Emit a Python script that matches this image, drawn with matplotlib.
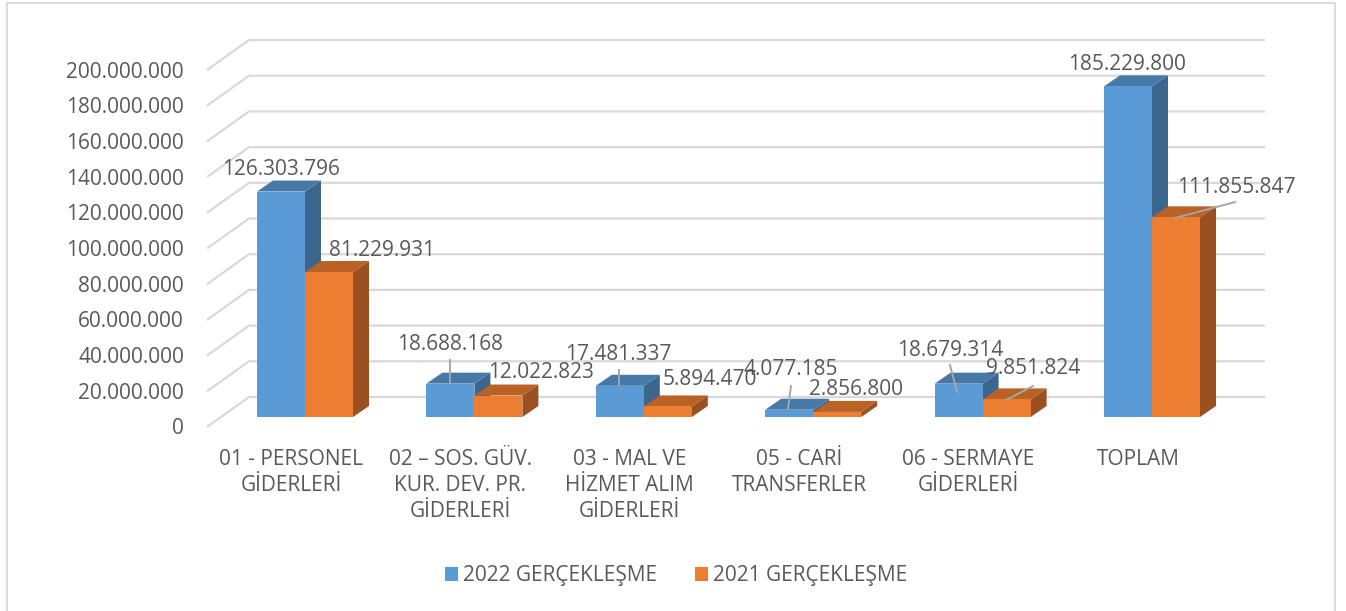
import matplotlib
matplotlib.use("Agg")
import matplotlib.pyplot as plt
from matplotlib.patches import Patch, Rectangle

# ---------------- data ----------------
categories = ["01 - PERSONEL\nGİDERLERİ",
              "02 – SOS. GÜV.\nKUR. DEV. PR.\nGİDERLERİ",
              "03 - MAL VE\nHİZMET ALIM\nGİDERLERİ",
              "05 - CARİ\nTRANSFERLER",
              "06 - SERMAYE\nGİDERLERİ",
              "TOPLAM"]
series_names = ["2022 GERÇEKLEŞME", "2021 GERÇEKLEŞME"]
values_2022 = [126303796, 18688168, 17481337, 4077185, 18679314, 185229800]
values_2021 = [81229931, 12022823, 5894470, 2856800, 9851824, 111855847]
y_ticks = [0, 20000000, 40000000, 60000000, 80000000, 100000000,
           120000000, 140000000, 160000000, 180000000, 200000000]

# ---------------- style / layout ----------------
FONT = "Open Sans"
FS = 15
TXT = "#595959"
GRID = "#D9D9D9"
LEADER = "#A6A6A6"
front_cols = ["#5B9BD5", "#ED7D31"]
top_cols = ["#4779A8", "#BA6226"]
side_cols = ["#3C668E", "#9A5020"]

W, H = 1346, 611
PX_CAT = 169.4            # pixels per category step
PX_UNIT = 1.785 / 1e6     # pixels per value unit
X0 = 305.0                # pixel x of first category centre (bar plane)
Y0 = 417.0                # pixel y (from top) of the zero line in bar plane

def dxp(p):  # pixel offset -> data x offset
    return p / PX_CAT

def dyp(p):  # pixel offset (downwards positive) -> data y offset
    return -p / PX_UNIT

fig = plt.figure(figsize=(W / 100, H / 100), dpi=100)
ax = fig.add_axes([0, 0, 1, 1])
ax.set_xlim(-X0 / PX_CAT, (W - X0) / PX_CAT)
ax.set_ylim((Y0 - H) / PX_UNIT, Y0 / PX_UNIT)
ax.axis("off")

# chart border
fig.add_artist(Rectangle((7 / W, -0.02), 1328 / W, 1.02 - 3 / H,
                         transform=fig.transFigure, fill=False,
                         edgecolor=GRID, lw=1.3))

# depth geometry (pixels)
BAR_D = (16, -11)       # bar depth
FRONT = (-14, 10)       # front plane relative to bar plane
BACK = (28, -20)        # back wall relative to bar plane
x_front_left = dxp(207 - X0)
x_back_left = dxp(249 - X0)
x_back_right = dxp(1265 - X0)

# gridlines + y tick labels
for v in y_ticks:
    yf = v + dyp(FRONT[1])
    yb = v + dyp(BACK[1])
    ax.plot([x_front_left, x_back_left, x_back_right], [yf, yb, yb],
            color=GRID, lw=1.6, zorder=1, solid_capstyle="butt")
    lab = f"{v:,}".replace(",", ".")
    ax.text(dxp(184 - X0), yf + dyp(7.5), lab, ha="right", va="baseline",
            fontsize=FS, family=FONT, color=TXT)

# bars
bw = dxp(48)
ddx, ddy = dxp(BAR_D[0]), dyp(BAR_D[1])
z = 2
for s, vals in enumerate([values_2022, values_2021]):
    for i, v in enumerate(vals):
        x0 = i - bw + s * bw
        x1 = x0 + bw
        ax.fill([x1, x1 + ddx, x1 + ddx, x1], [0, ddy, v + ddy, v],
                color=side_cols[s], lw=0, zorder=z)
        ax.fill([x0, x1, x1 + ddx, x0 + ddx], [v, v, v + ddy, v + ddy],
                color=top_cols[s], lw=0, zorder=z)
    ax.bar([i - bw + s * bw for i in range(len(vals))], vals, width=bw,
           align="edge", color=front_cols[s], lw=0, zorder=z + 1)
    z += 2

# data labels (offsets in pixels from the front-top centre of each bar)
label_off = [
    [(0, -24.5), (0, -41.6), (-1.8, -32.8), (1.8, -42.7), (-8.6, -34.7), (-1, -23.4)],
    [(53, -24), (42.6, -25.5), (42.2, -28.5), (18.8, -24.9), (26.4, -33.4), (60, -32.3)],
]
leaders = {
    (0, 1): ((-0.4, -23.6), (-0.4, -0.6)),
    (0, 2): ((-0.8, -15.8), (-0.8, -1.0)),
    (0, 3): ((1.8, -23.7), (-1.2, -0.7)),
    (0, 4): ((-8.6, -18.7), (-1.6, 8.3)),
    (1, 4): ((26.4, -13.4), (-0.6, 0.6)),
    (1, 5): ((59, -15.3), (-1, 0.7)),
}
for s, vals in enumerate([values_2022, values_2021]):
    for i, v in enumerate(vals):
        xc = i - bw / 2 + s * bw
        ox, oy = label_off[s][i]
        lab = f"{v:,}".replace(",", ".")
        ax.text(xc + dxp(ox), v + dyp(oy + 7.5), lab, ha="center",
                va="baseline", fontsize=FS, family=FONT, color=TXT, zorder=20)
        if (s, i) in leaders:
            (ax_, ay_), (bx_, by_) = leaders[(s, i)]
            ax.plot([xc + dxp(ax_), xc + dxp(bx_)], [v + dyp(ay_), v + dyp(by_)],
                    color=LEADER, lw=1.4, zorder=19)

# category labels (front plane)
for i, c in enumerate(categories):
    ax.text(i + dxp(FRONT[0]), dyp(449 - Y0), c, ha="center", va="top",
            fontsize=FS, family=FONT, color=TXT, linespacing=1.3)

# legend
handles = [Patch(facecolor=front_cols[k], edgecolor="none") for k in range(2)]
leg = fig.legend(handles, series_names, loc="center",
                 bbox_to_anchor=(676 / W, 1 - 576 / H), ncol=2, frameon=False,
                 handlelength=0.62, handleheight=0.62, handletextpad=0.25,
                 columnspacing=1.8, prop={"family": FONT, "size": FS})
for t in leg.get_texts():
    t.set_color(TXT)

fig.savefig("out.png", dpi=100)
